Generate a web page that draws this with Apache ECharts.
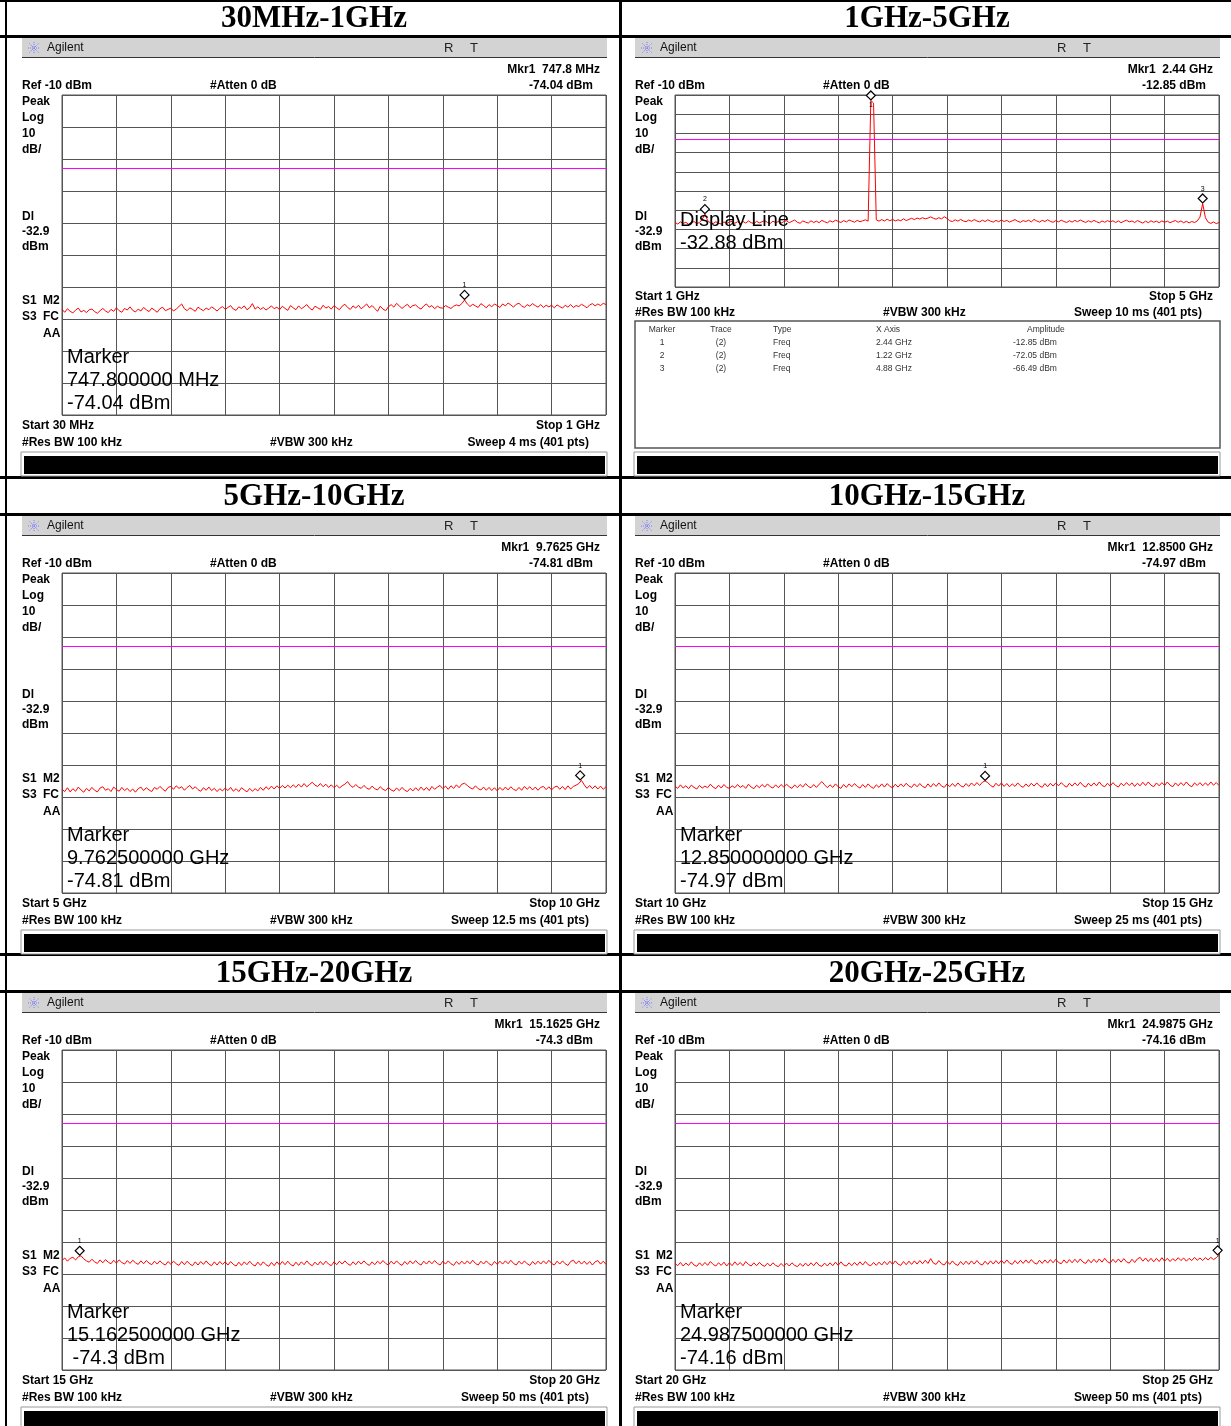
<!DOCTYPE html>
<html><head><meta charset="utf-8">
<script src="https://cdn.jsdelivr.net/npm/echarts@6/dist/echarts.min.js"></script>
<style>html,body{margin:0;padding:0;background:#fff}#c{width:1231px;height:1426px}</style>
</head><body><div id="c"></div>
<script>
// ---------------- DATA ----------------
const titles = ['30MHz-1GHz', '1GHz-5GHz', '5GHz-10GHz', '10GHz-15GHz', '15GHz-20GHz', '20GHz-25GHz'];
const startFreq = [30, 1, 5, 10, 15, 20];      // MHz for panel 1, GHz for others
const stopFreq = [1000, 5, 10, 15, 20, 25];
const startText = ['Start 30 MHz', 'Start 1 GHz', 'Start 5 GHz', 'Start 10 GHz', 'Start 15 GHz', 'Start 20 GHz'];
const stopText = ['Stop 1 GHz', 'Stop 5 GHz', 'Stop 10 GHz', 'Stop 15 GHz', 'Stop 20 GHz', 'Stop 25 GHz'];
const sweepText = ['Sweep 4 ms (401 pts)', 'Sweep 10 ms (401 pts)', 'Sweep 12.5 ms (401 pts)', 'Sweep 25 ms (401 pts)', 'Sweep 50 ms (401 pts)', 'Sweep 50 ms (401 pts)'];
const mkrFreqText = ['747.8 MHz', '2.44 GHz', '9.7625 GHz', '12.8500 GHz', '15.1625 GHz', '24.9875 GHz'];
const mkrAmpText = ['-74.04 dBm', '-12.85 dBm', '-74.81 dBm', '-74.97 dBm', '-74.3 dBm', '-74.16 dBm'];
const bigText = [
  ['Marker', '747.800000 MHz', '-74.04 dBm'],
  ['Display Line', '-32.88 dBm'],
  ['Marker', '9.762500000 GHz', '-74.81 dBm'],
  ['Marker', '12.850000000 GHz', '-74.97 dBm'],
  ['Marker', '15.162500000 GHz', ' -74.3 dBm'],
  ['Marker', '24.987500000 GHz', '-74.16 dBm']
];
const refLevel = -10;
const bottomLevel = -110;
const displayLine = -32.88;

const trace1 = [
-77.0,-77.9,-76.8,-77.6,-78.1,-77.2,-76.6,-77.8,-77.3,-78.0,-77.1,-76.9,-77.7,-78.2,-77.4,-76.7,-77.5,-78.0,-77.0,-77.6,
-76.5,-77.4,-77.9,-76.7,-77.2,-76.2,-77.3,-77.8,-76.9,-77.5,-76.4,-77.1,-77.7,-76.6,-77.2,-77.9,-76.8,-76.3,-77.4,-77.0,
-76.6,-77.5,-76.9,-76.1,-75.3,-76.8,-77.4,-76.5,-77.0,-77.6,-76.3,-76.9,-77.4,-76.6,-77.1,-76.2,-76.8,-77.5,-76.7,-76.1,
-77.0,-76.4,-75.8,-76.9,-77.3,-76.2,-76.7,-75.9,-77.1,-76.5,-75.2,-76.9,-76.2,-77.0,-76.4,-77.2,-76.6,-75.9,-76.8,-76.3,
-77.1,-76.0,-76.7,-77.3,-75.8,-76.5,-77.1,-75.9,-76.8,-76.2,-75.5,-76.6,-77.2,-76.0,-76.5,-77.0,-75.7,-76.6,-76.1,-76.9,
-75.8,-76.5,-77.1,-76.0,-75.4,-76.4,-77.0,-75.9,-76.6,-75.7,-76.8,-76.1,-75.3,-76.5,-75.8,-76.7,-77.6,-76.0,-76.9,-77.4,
-76.2,-75.5,-76.3,-75.1,-75.9,-76.7,-76.0,-75.4,-76.5,-75.8,-75.6,-76.4,-76.9,-75.9,-75.3,-76.3,-75.8,-76.8,-76.0,-76.5,
-76.6,-75.8,-76.3,-76.7,-76.0,-75.6,-75.9,-75.2,-74.04,-75.3,-76.1,-75.4,-75.9,-76.4,-75.2,-75.8,-76.5,-75.5,-76.2,-75.3,
-75.8,-76.4,-75.3,-75.9,-75.0,-75.6,-76.3,-75.4,-75.1,-75.9,-76.4,-75.5,-76.0,-75.2,-75.8,-76.3,-75.5,-76.4,-75.7,-76.2,
-75.7,-76.5,-75.6,-76.1,-76.6,-75.7,-76.3,-75.5,-76.4,-75.8,-76.1,-75.4,-75.9,-76.5,-75.6,-75.2,-75.9,-75.3,-75.8,-75.1,-75.5
];
const trace2 = [
-76.4,-77.2,-76.1,-76.9,-76.3,-77.3,-76.5,-75.9,-77.0,-76.4,-74.8,-72.05,-75.4,-76.6,-77.0,-76.0,-76.8,-77.2,-76.1,-76.9,
-76.2,-75.8,-76.8,-76.0,-77.1,-75.9,-76.7,-75.6,-76.5,-77.0,-75.8,-76.6,-76.0,-75.4,-76.4,-76.9,-75.7,-76.5,-75.9,-76.7,
-76.0,-75.5,-76.5,-75.8,-75.1,-76.3,-76.8,-75.6,-76.2,-76.7,-75.5,-76.4,-75.7,-76.5,-75.3,-76.0,-76.6,-75.5,-76.2,-75.2,
-75.8,-76.4,-75.4,-76.1,-75.1,-75.7,-76.3,-75.3,-76.0,-75.5,-75.0,-75.7,-12.85,-14.2,-75.0,-75.7,-74.9,-75.6,-74.7,-75.5,
-74.8,-75.6,-75.0,-75.5,-74.5,-75.4,-74.8,-74.2,-74.9,-74.1,-74.6,-73.9,-74.5,-74.1,-73.5,-74.2,-74.7,-73.9,-74.5,-73.4,
-74.3,-75.5,-75.9,-75.0,-75.7,-74.8,-75.6,-76.0,-75.1,-75.8,-74.9,-75.6,-76.1,-75.2,-75.9,-75.0,-75.7,-76.2,-75.3,-76.0,
-75.1,-75.9,-75.3,-76.2,-75.5,-74.9,-75.8,-76.3,-75.4,-75.9,-75.2,-76.1,-74.8,-75.6,-76.2,-75.3,-75.9,-75.0,-75.8,-76.3,
-75.4,-76.1,-75.2,-75.9,-76.4,-75.5,-76.2,-75.3,-76.0,-75.1,-75.8,-76.4,-75.5,-76.2,-75.3,-76.0,-76.6,-75.6,-76.3,-75.4,
-76.1,-75.5,-76.4,-75.6,-76.5,-75.8,-75.2,-76.1,-75.6,-76.4,-75.4,-76.1,-76.7,-75.7,-76.5,-75.5,-76.3,-75.7,-76.5,-75.6,
-76.3,-75.7,-76.5,-75.9,-75.4,-76.3,-75.6,-76.5,-75.8,-76.6,-75.9,-76.4,-75.6,-73.6,-66.49,-73.9,-76.2,-76.9,-76.1,-77.0,-76.4
];
const trace3 = [
-77.6,-78.3,-77.1,-78.4,-77.4,-78.2,-76.9,-77.8,-78.5,-77.3,-78.1,-77.0,-77.9,-78.4,-77.2,-76.8,-77.9,-77.4,-78.3,-76.9,
-77.7,-78.2,-77.0,-78.0,-77.3,-78.3,-77.5,-78.5,-77.4,-76.9,-78.0,-77.1,-77.8,-78.3,-77.0,-77.6,-76.7,-77.5,-78.2,-77.0,
-76.7,-77.6,-76.5,-77.3,-76.8,-77.9,-77.0,-76.4,-77.5,-76.8,-77.7,-78.2,-77.1,-77.9,-76.9,-78.0,-77.3,-78.3,-77.4,-78.1,
-77.2,-78.0,-77.0,-78.2,-77.4,-78.3,-77.1,-77.8,-78.4,-77.3,-78.2,-77.4,-78.1,-77.0,-77.9,-76.8,-77.6,-76.6,-77.5,-76.5,
-77.3,-76.4,-77.2,-76.3,-77.1,-76.2,-77.0,-76.0,-76.9,-75.8,-76.8,-76.1,-75.4,-76.3,-76.7,-75.8,-76.8,-76.0,-77.0,-76.2,
-77.1,-76.3,-77.2,-76.5,-76.0,-75.2,-76.4,-77.0,-76.1,-76.9,-77.3,-76.4,-77.2,-77.6,-76.6,-77.4,-77.8,-76.8,-77.6,-78.0,
-77.0,-77.8,-78.2,-77.2,-78.0,-77.0,-77.9,-78.3,-77.3,-78.1,-77.1,-78.0,-76.9,-77.9,-77.0,-78.0,-76.7,-77.6,-76.9,-76.4,
-77.4,-76.6,-77.6,-76.5,-77.3,-76.2,-77.1,-76.0,-75.7,-76.4,-77.1,-77.5,-76.5,-77.4,-77.8,-76.9,-77.9,-77.0,-78.0,-77.1,
-78.1,-77.0,-77.9,-76.9,-77.8,-76.8,-77.6,-78.0,-77.0,-77.9,-76.7,-77.6,-76.8,-77.8,-76.9,-77.9,-77.0,-76.7,-77.7,-76.8,
-77.8,-76.9,-76.6,-77.6,-76.7,-77.7,-76.5,-77.5,-76.7,-76.3,-75.8,-74.81,-76.2,-77.3,-76.4,-77.4,-76.5,-77.5,-76.6,-77.6,-76.8
];
const trace4 = [
-76.6,-77.3,-76.2,-77.2,-76.5,-77.4,-76.3,-77.0,-77.5,-76.4,-77.2,-76.6,-77.1,-76.0,-76.9,-77.4,-76.3,-77.2,-76.1,-77.0,
-77.3,-76.5,-77.1,-76.1,-77.0,-76.4,-77.3,-76.0,-76.9,-77.4,-76.3,-77.1,-76.1,-76.9,-75.9,-76.8,-77.2,-76.2,-77.1,-76.1,
-76.9,-76.0,-76.8,-77.3,-76.2,-77.1,-76.1,-76.9,-75.8,-76.7,-77.1,-76.1,-77.0,-76.0,-75.2,-76.2,-77.1,-76.2,-77.0,-75.9,
-76.8,-77.3,-76.1,-77.0,-75.9,-76.8,-75.8,-76.7,-77.2,-76.1,-77.0,-75.9,-76.8,-77.3,-76.2,-77.0,-75.9,-76.9,-75.8,-76.7,
-77.1,-76.0,-76.9,-75.9,-76.8,-75.7,-76.6,-77.0,-75.9,-76.8,-75.8,-76.7,-77.1,-75.9,-76.9,-75.8,-76.7,-75.6,-76.6,-77.0,
-75.9,-76.8,-75.8,-76.7,-75.6,-76.5,-76.9,-75.8,-76.7,-75.6,-76.5,-75.5,-76.4,-75.4,-74.97,-75.5,-76.4,-76.9,-75.7,-76.6,
-75.6,-76.7,-75.8,-76.8,-75.9,-76.7,-75.6,-76.5,-77.0,-75.9,-76.8,-75.7,-76.6,-75.6,-76.5,-77.0,-75.8,-76.8,-75.7,-76.6,
-75.6,-76.5,-75.5,-76.4,-76.9,-75.7,-76.6,-75.6,-76.5,-75.4,-76.4,-76.9,-75.7,-76.6,-75.6,-76.5,-75.3,-76.4,-76.8,-75.7,
-76.6,-75.5,-76.4,-76.9,-75.7,-76.5,-75.5,-76.4,-75.6,-76.7,-75.7,-76.5,-75.4,-76.4,-75.3,-76.3,-76.8,-75.6,-76.5,-75.5,
-76.4,-75.3,-76.3,-76.8,-75.6,-76.5,-75.5,-76.4,-75.3,-76.3,-76.8,-75.6,-76.4,-75.5,-76.5,-75.6,-76.4,-75.3,-76.3,-75.5,-76.4
];
const trace5 = [
-75.8,-75.0,-76.0,-75.1,-74.8,-75.6,-74.6,-74.3,-75.3,-75.9,-76.3,-75.4,-76.2,-76.7,-75.6,-76.5,-75.5,-76.3,-76.8,-75.7,
-76.6,-75.6,-76.4,-76.9,-75.8,-76.7,-75.7,-76.5,-77.0,-75.9,-76.8,-75.8,-76.6,-77.1,-76.0,-76.9,-75.9,-76.7,-77.2,-76.1,
-77.0,-76.0,-76.8,-77.3,-76.1,-77.1,-76.0,-76.9,-77.4,-76.2,-77.2,-76.1,-77.0,-75.9,-76.9,-77.4,-76.2,-77.2,-76.1,-77.0,
-76.2,-77.2,-76.1,-77.0,-77.5,-76.3,-77.3,-76.2,-77.1,-76.0,-77.0,-77.5,-76.3,-77.3,-76.2,-77.1,-77.6,-76.4,-77.4,-76.2,
-77.2,-76.1,-77.1,-76.0,-77.0,-77.5,-76.3,-77.3,-76.2,-77.1,-75.9,-76.9,-77.4,-76.3,-77.2,-76.1,-77.1,-76.0,-76.9,-77.4,
-76.2,-77.1,-76.0,-76.9,-75.9,-76.8,-77.3,-76.2,-77.1,-76.0,-76.9,-75.9,-76.8,-77.3,-76.2,-77.1,-76.0,-76.8,-75.8,-76.7,
-77.2,-76.0,-76.9,-75.9,-76.8,-77.3,-76.1,-77.0,-75.9,-76.8,-75.8,-76.7,-77.2,-76.0,-76.9,-75.9,-76.8,-75.8,-76.7,-77.2,
-76.0,-76.9,-75.9,-76.8,-77.3,-76.1,-77.0,-76.0,-76.9,-75.9,-76.8,-75.7,-76.7,-77.2,-76.0,-76.9,-75.9,-76.8,-77.3,-76.1,
-77.0,-76.0,-76.9,-75.9,-76.8,-75.7,-76.7,-77.2,-76.0,-76.9,-75.9,-76.8,-77.3,-76.1,-77.0,-76.0,-76.9,-75.9,-76.8,-75.7,
-76.7,-77.2,-76.0,-76.9,-75.9,-76.8,-77.3,-76.1,-75.7,-76.8,-75.9,-76.9,-76.0,-77.0,-76.1,-77.2,-76.2,-75.8,-76.9,-76.0,-77.0
];
const trace6 = [
-76.7,-77.4,-76.4,-77.5,-76.6,-77.3,-76.2,-77.2,-77.6,-76.5,-77.4,-76.4,-77.3,-76.1,-77.0,-77.5,-76.5,-77.3,-76.3,-77.5,
-76.5,-77.4,-76.2,-77.2,-76.4,-77.4,-76.1,-77.0,-77.5,-76.5,-77.4,-76.4,-77.2,-77.6,-76.6,-77.5,-76.5,-77.3,-77.7,-76.7,
-77.6,-76.6,-77.5,-76.5,-77.3,-77.7,-76.7,-77.6,-76.6,-77.5,-76.5,-77.4,-76.3,-77.3,-77.6,-76.6,-77.5,-76.5,-77.4,-76.3,
-77.3,-76.2,-77.2,-77.5,-76.5,-77.4,-76.4,-77.3,-76.2,-77.2,-76.1,-77.1,-77.4,-76.4,-77.3,-76.3,-77.2,-76.1,-77.1,-76.0,
-77.0,-75.9,-76.9,-77.3,-76.1,-77.1,-76.0,-77.0,-75.9,-76.9,-75.8,-76.8,-75.7,-76.7,-75.2,-76.6,-77.0,-75.8,-76.8,-77.2,
-76.0,-77.0,-75.9,-76.9,-77.3,-76.1,-77.1,-76.0,-77.0,-75.9,-76.9,-75.8,-76.8,-77.2,-76.0,-77.0,-75.9,-76.9,-75.8,-76.8,
-75.7,-76.7,-75.6,-76.6,-77.0,-75.8,-76.8,-75.7,-76.7,-75.6,-76.6,-75.5,-76.5,-76.9,-75.7,-76.7,-75.6,-76.6,-75.5,-76.5,
-75.4,-76.4,-76.8,-75.6,-76.6,-75.5,-76.5,-75.4,-76.4,-75.3,-76.3,-76.7,-75.5,-76.5,-75.4,-76.4,-75.3,-76.3,-75.1,-76.2,
-76.6,-75.4,-76.4,-75.3,-76.3,-75.2,-76.2,-76.6,-75.4,-76.4,-75.3,-74.8,-76.0,-75.0,-76.1,-75.1,-76.2,-75.1,-76.1,-74.9,
-76.0,-75.1,-76.1,-75.2,-75.9,-74.9,-75.8,-75.0,-76.0,-75.1,-75.8,-74.8,-75.7,-75.0,-75.8,-74.9,-75.6,-74.8,-75.5,-74.9,-74.16
];
const traces = [trace1, trace2, trace3, trace4, trace5, trace6];

// markers: [frequency, amplitude, number]
const markers1 = [[747.8, -74.04, '1']];
const markers2 = [[2.44, -12.85, '1'], [1.22, -72.05, '2'], [4.88, -66.49, '3']];
const markers3 = [[9.7625, -74.81, '1']];
const markers4 = [[12.85, -74.97, '1']];
const markers5 = [[15.1625, -74.3, '1']];
const markers6 = [[24.9875, -74.16, '1']];
const markerSets = [markers1, markers2, markers3, markers4, markers5, markers6];

const tableHeader = ['Marker', 'Trace', 'Type', 'X Axis', 'Amplitude'];
const tableRows = [
  ['1', '(2)', 'Freq', '2.44 GHz', '-12.85 dBm'],
  ['2', '(2)', 'Freq', '1.22 GHz', '-72.05 dBm'],
  ['3', '(2)', 'Freq', '4.88 GHz', '-66.49 dBm']
];

// ---------------- LAYOUT ----------------
const rowOff = [0, 478, 955];
const colOff = [0, 613];
const SANS = '"Liberation Sans", Arial, Helvetica, sans-serif';
const SERIF = '"Liberation Serif", "Times New Roman", serif';
const GRIDC = '#555';

const g = [];
function txt(x, y, s, o) {
  o = o || {};
  g.push({type: 'text', z: 100, silent: true, style: {
    x: x, y: y, text: s, fill: o.fill || '#000',
    fontSize: o.size || 12, fontWeight: o.weight || 'bold',
    fontFamily: o.family || SANS, align: o.align || 'left', verticalAlign: 'middle'
  }});
}
function rect(x, y, w, h, fill, stroke, lw, z) {
  g.push({type: 'rect', z: z || 1, silent: true, shape: {x: x, y: y, width: w, height: h},
    style: {fill: fill || 'none', stroke: stroke || null, lineWidth: lw || 0}});
}
function line(x1, y1, x2, y2, stroke, lw, dash) {
  g.push({type: 'line', z: 2, silent: true, shape: {x1: x1, y1: y1, x2: x2, y2: y2},
    style: {stroke: stroke, lineWidth: lw || 1, lineDash: dash || null}});
}

// frame lines
rect(0, 0, 1231, 2, '#000');
rect(0, 35, 1231, 3, '#000');
rect(0, 476, 1231, 3, '#000');
rect(0, 513, 1231, 3, '#000');
rect(0, 953, 1231, 3, '#000');
rect(0, 990, 1231, 3, '#000');
rect(5, 0, 2, 1426, '#000');
rect(619, 0, 3, 1426, '#000');

const grids = [], xAxes = [], yAxes = [], series = [];

for (let p = 0; p < 6; p++) {
  const ox = colOff[p % 2], oy = rowOff[Math.floor(p / 2)];
  const narrow = (p === 1);
  const gridH = narrow ? 192 : 320;

  // title
  txt(314 + ox, 19 + oy, titles[p], {size: 31, family: SERIF, align: 'center'});

  // Agilent header bar
  rect(22 + ox, 38 + oy, 585, 19, '#d3d3d3');
  line(22 + ox, 57.5 + oy, 607 + ox, 57.5 + oy, '#333', 1);
  const sx = 34 + ox, sy = 48 + oy;
  line(sx - 6, sy, sx + 6, sy, '#7a7aff', 1, [1, 1]);
  line(sx, sy - 6, sx, sy + 6, '#7a7aff', 1, [1, 1]);
  line(sx - 4.5, sy - 4.5, sx + 4.5, sy + 4.5, '#7a7aff', 1, [1, 1]);
  line(sx - 4.5, sy + 4.5, sx + 4.5, sy - 4.5, '#7a7aff', 1, [1, 1]);
  txt(47 + ox, 48 + oy, 'Agilent', {weight: 'normal', size: 12, fill: '#111'});
  txt(444 + ox, 48 + oy, 'R', {weight: 'normal', size: 13, fill: '#222'});
  txt(470 + ox, 48 + oy, 'T', {weight: 'normal', size: 13, fill: '#222'});

  // header texts
  txt(600 + ox, 70 + oy, 'Mkr1  ' + mkrFreqText[p], {align: 'right'});
  txt(22 + ox, 86 + oy, 'Ref -10 dBm');
  txt(210 + ox, 86 + oy, '#Atten 0 dB');
  txt(593 + ox, 86 + oy, mkrAmpText[p], {align: 'right'});
  txt(22 + ox, 102 + oy, 'Peak');
  txt(22 + ox, 118 + oy, 'Log');
  txt(22 + ox, 134 + oy, '10');
  txt(22 + ox, 150 + oy, 'dB/');
  txt(22 + ox, 217 + oy, 'Dl');
  txt(22 + ox, 232 + oy, '-32.9');
  txt(22 + ox, 247 + oy, 'dBm');
  if (!narrow) {
    txt(22 + ox, 301 + oy, 'S1');
    txt(43 + ox, 301 + oy, 'M2');
    txt(22 + ox, 317 + oy, 'S3');
    txt(43 + ox, 317 + oy, 'FC');
    txt(43 + ox, 334 + oy, 'AA');
  }

  // big marker / display line text
  const bt = bigText[p];
  if (narrow) {
    txt(67 + ox, 220 + oy, bt[0], {weight: 'normal', size: 20});
    txt(67 + ox, 243 + oy, bt[1], {weight: 'normal', size: 20});
  } else {
    txt(67 + ox, 357 + oy, bt[0], {weight: 'normal', size: 20});
    txt(67 + ox, 380 + oy, bt[1], {weight: 'normal', size: 20});
    txt(67 + ox, 403 + oy, bt[2], {weight: 'normal', size: 20});
  }

  // footer texts
  const fy1 = narrow ? 297 : 426, fy2 = narrow ? 313 : 443;
  txt(22 + ox, fy1 + oy, startText[p]);
  txt(600 + ox, fy1 + oy, stopText[p], {align: 'right'});
  txt(22 + ox, fy2 + oy, '#Res BW 100 kHz');
  txt(270 + ox, fy2 + oy, '#VBW 300 kHz');
  txt(589 + ox, fy2 + oy, sweepText[p], {align: 'right'});

  // marker table (panel 2)
  if (narrow) {
    rect(22 + ox, 321 + oy, 585, 127, '#fff', '#555', 1.5);
    const cx = [41, 100, 152, 255, 403];
    const al = ['center', 'center', 'left', 'left', 'left'];
    tableHeader.forEach((h, i) => txt(cx[i] + 621 + (i === 4 ? 3 : 0), 330, h, {weight: 'normal', size: 8.5, fill: '#333', align: al[i]}));
    tableRows.forEach((r, j) => r.forEach((c, i) => txt(cx[i] + 621 + (i === 4 ? -11 : 0), 343 + j * 13, c, {weight: 'normal', size: 8.5, fill: '#333', align: al[i]})));
  }

  // bottom black bar
  rect(21 + ox, 452 + oy, 586, 24, '#fff', '#999', 1);
  rect(24 + ox, 456 + oy, 581, 18, '#000');

  // grid + axes
  grids.push({left: 62 + ox, top: 95 + oy, width: 544, height: gridH, show: true,
    borderColor: GRIDC, borderWidth: 1, backgroundColor: 'transparent', containLabel: false, outerBoundsMode: 'none'});
  xAxes.push({gridIndex: p, type: 'value', min: 0, max: 10, interval: 1,
    axisLine: {show: false}, axisTick: {show: false}, axisLabel: {show: false},
    splitLine: {show: true, lineStyle: {color: GRIDC, width: 1}}});
  xAxes.push({gridIndex: p, type: 'value', min: startFreq[p], max: stopFreq[p], show: false,
    splitLine: {show: false}});
  yAxes.push({gridIndex: p, type: 'value', min: bottomLevel, max: refLevel, interval: 10,
    axisLine: {show: false}, axisTick: {show: false}, axisLabel: {show: false},
    splitLine: {show: true, lineStyle: {color: GRIDC, width: 1}}});

  const tr = traces[p];
  const step = (stopFreq[p] - startFreq[p]) / (tr.length - 1);
  series.push({
    type: 'line', xAxisIndex: 2 * p + 1, yAxisIndex: p,
    data: tr.map((v, i) => [startFreq[p] + i * step, v]),
    showSymbol: false, symbol: 'none', clip: true, z: 3,
    lineStyle: {color: '#ff0000', width: 1},
    markLine: {silent: true, symbol: ['none', 'none'], animation: false,
      label: {show: false},
      lineStyle: {color: '#ff00ff', width: 1, type: 'solid', opacity: 1},
      data: [{yAxis: displayLine}]}
  });
  series.push({
    type: 'scatter', xAxisIndex: 2 * p + 1, yAxisIndex: p, z: 5,
    symbol: 'diamond', symbolSize: [9, 9], symbolOffset: [0, -5],
    itemStyle: {color: '#fff', borderColor: '#000', borderWidth: 1.2, opacity: 1},
    data: markerSets[p].map(m => ({
      value: [m[0], m[1]],
      label: {show: true, formatter: m[2], position: (m[1] > -20 ? 'bottom' : 'top'), distance: 1,
        fontSize: 7, color: '#000', fontFamily: SANS}
    }))
  });
}

const chart = echarts.init(document.getElementById('c'), null, {renderer: 'canvas'});
chart.setOption({
  animation: false,
  backgroundColor: '#fff',
  grid: grids, xAxis: xAxes, yAxis: yAxes, series: series,
  graphic: {elements: g}
});
</script>
</body></html>
